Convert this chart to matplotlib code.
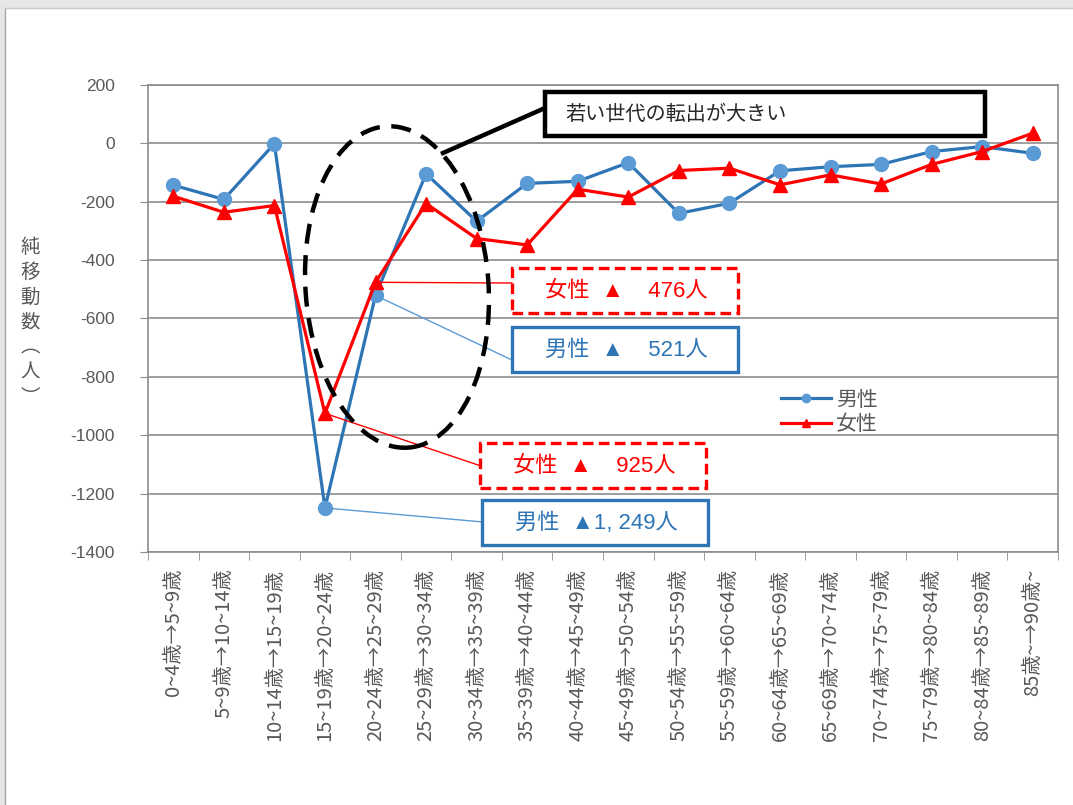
import matplotlib
matplotlib.use("Agg")
import matplotlib.pyplot as plt
from matplotlib.patches import Rectangle, Ellipse
from matplotlib.lines import Line2D
import numpy as np

plt.rcParams['font.family'] = ['Liberation Sans', 'Noto Sans CJK JP']

ages = ["0~4歳→5~9歳", "5~9歳→10~14歳", "10~14歳→15~19歳", "15~19歳→20~24歳",
        "20~24歳→25~29歳", "25~29歳→30~34歳", "30~34歳→35~39歳", "35~39歳→40~44歳",
        "40~44歳→45~49歳", "45~49歳→50~54歳", "50~54歳→55~59歳", "55~59歳→60~64歳",
        "60~64歳→65~69歳", "65~69歳→70~74歳", "70~74歳→75~79歳", "75~79歳→80~84歳",
        "80~84歳→85~89歳", "85歳~→90歳~"]
male = [-143, -192, -1, -1249, -521, -104, -267, -137, -130, -66,
        -240, -205, -94, -80, -72, -28, -11, -34]
female = [-181, -236, -213, -925, -476, -206, -326, -348, -157, -184,
          -93, -85, -142, -108, -139, -72, -28, 35]
yticks = list(range(-1400, 201, 200))

BLUE = '#2e75b6'
BLUE_M = '#5b9bd5'
RED = '#ff0000'
GRAY = '#595959'

W, H = 1073, 805
fig = plt.figure(figsize=(W / 100, H / 100), dpi=100)
ax = fig.add_axes([148 / W, 1 - 552 / H, 910 / W, 467 / H])

# pixel helper -> inches for fig.dpi_scale_trans
def P(x, y):
    return (x / 100, (H - y) / 100)

tr = fig.dpi_scale_trans

# outer frame
fig.patches.append(Rectangle((0, 1 - 8 / H), 1, 8 / H, transform=fig.transFigure,
                             facecolor='#e6e6e6', edgecolor='none', zorder=-5))
fig.patches.append(Rectangle((0, 0), 5 / W, 1, transform=fig.transFigure,
                             facecolor='#e6e6e6', edgecolor='none', zorder=-5))
fig.lines.append(Line2D([5 / W, 5 / W], [0, 1 - 8 / H], transform=fig.transFigure,
                        color='#a6a6a6', lw=1))
fig.lines.append(Line2D([5 / W, 1], [1 - 8 / H, 1 - 8 / H], transform=fig.transFigure,
                        color='#c8c8c8', lw=1))

x = np.arange(len(ages))
ax.plot(x, male, color=BLUE, lw=2.3, marker='o', ms=10, mfc=BLUE_M, mec=BLUE_M,
        label='男性', zorder=3)
ax.plot(x, female, color=RED, lw=2.3, marker='^', ms=10, mfc=RED, mec=RED,
        label='女性', zorder=4)

ax.set_xlim(-0.5, len(ages) - 0.5)
ax.set_ylim(-1400, 200)
ax.set_yticks(yticks)
ax.set_yticklabels([str(v) for v in yticks], fontsize=12.5, color=GRAY)
ax.yaxis.grid(True, color='#8c8c8c', lw=1.2)
ax.set_axisbelow(True)
ax.tick_params(axis='y', length=6, color='#8c8c8c', pad=18)

ax.set_xticks(x)
ax.set_xticklabels(ages, rotation=90, va='top', ha='center', fontsize=14.5,
                   color=GRAY, family=['Liberation Sans Narrow', 'Noto Sans CJK JP'])
ax.set_xticks(np.arange(-0.5, len(ages)), minor=True)
ax.tick_params(axis='x', which='major', length=0, pad=12)
ax.tick_params(axis='x', which='minor', length=6, color='#8c8c8c')
for s in ax.spines.values():
    s.set_color('#8c8c8c')
    s.set_linewidth(1.2)

ax.legend(loc='upper left', bbox_to_anchor=(P(771, 380)), bbox_transform=tr,
          frameon=False, handlelength=2.4, labelspacing=0.25,
          handletextpad=0.2, borderpad=0, markerscale=0.6,
          prop={'size': 15}, labelcolor=GRAY)

fig.text(*P(30, 322), "純\n移\n動\n数\n︵\n人\n︶", transform=tr, ha='center',
         va='center', fontsize=14, color=GRAY, linespacing=1.25,
         family=['Noto Sans CJK JP'])

# dashed ellipse around the young-age outflow
fig.patches.append(Ellipse(P(397, 287), 183 / 100, 322 / 100, angle=4, transform=tr,
                           fill=False, edgecolor='black', lw=3.2,
                           linestyle=(0, (4.5, 2.6)), zorder=6))
fig.lines.append(Line2D([545 / 100, 443 / 100], [(H - 108) / 100, (H - 153) / 100],
                        transform=tr, color='black', lw=3.2, zorder=6))
fig.patches.append(Rectangle(P(545, 136), 440 / 100, 44 / 100, transform=tr,
                             facecolor='white', edgecolor='black', lw=3.2, zorder=6))
fig.text(*P(565, 114), "若い世代の転出が大きい", transform=tr, ha='left', va='center',
         fontsize=14.5, color='#262626', zorder=7)

# value callouts
callouts = [
    (4, female[4], '女性', RED, True, (512, 268), (513, 283)),
    (4, male[4], '男性', BLUE, False, (512, 327), (512, 360)),
    (3, female[3], '女性', RED, True, (480, 443), (481, 466)),
    (3, male[3], '男性', BLUE, False, (482, 500), (483, 522)),
]
for idx, val, sex, col, dashed, (bx, by), (lx, ly) in callouts:
    n = abs(val)
    if n >= 1000:
        label = f"{sex}  ▲{n:,}人".replace(',', ', ')
    else:
        label = f"{sex}  ▲    {n}人"
    ls = (0, (3.2, 1.6)) if dashed else '-'
    fig.patches.append(Rectangle(P(bx, by + 45), 226 / 100, 45 / 100, transform=tr,
                                 facecolor='white', edgecolor=col, lw=2.4,
                                 linestyle=ls, zorder=6))
    fig.text(*P(bx + 114, by + 23), label, transform=tr, ha='center', va='center',
             fontsize=16, color=col, zorder=7)
    ax.annotate('', xy=(idx, val), xytext=P(lx, ly), textcoords=tr,
                arrowprops=dict(arrowstyle='-', color=col if dashed else BLUE_M,
                                lw=1.0, shrinkA=0, shrinkB=0), zorder=5)

fig.savefig('out.png', dpi=100)
